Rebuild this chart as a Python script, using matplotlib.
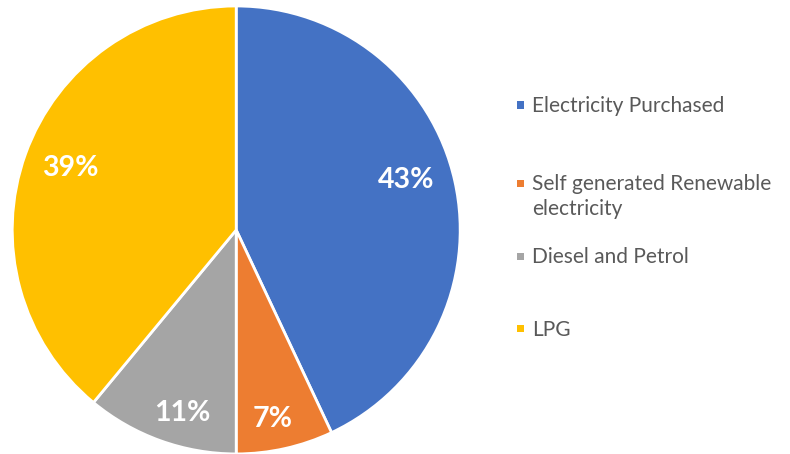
import matplotlib.pyplot as plt
from matplotlib.patches import Rectangle

plt.rcParams['font.family'] = ['Lato', 'DejaVu Sans']

# energy mix shares (%)
categories = ["Electricity Purchased", "Self generated Renewable\nelectricity",
              "Diesel and Petrol", "LPG"]
shares = [43, 7, 11, 39]
colors = ["#4472C4", "#ED7D31", "#A5A5A5", "#FFC000"]

fig = plt.figure(figsize=(7.9, 4.54), dpi=100)
ax = fig.add_axes([0.0155, 0.0, 0.567, 0.987])

wedges, texts, autotexts = ax.pie(
    shares,
    colors=colors,
    startangle=90,
    counterclock=False,
    autopct=lambda p: f"{p:.0f}%",
    pctdistance=0.82,
    wedgeprops=dict(edgecolor="white", linewidth=2),
    textprops=dict(color="white", fontsize=20.5, fontweight="bold"),
)
ax.set_aspect("equal")
ax.set_xlim(-1.0, 1.0)
ax.set_ylim(-1.0, 1.0)

# small nudges so the labels sit where the original puts them
nudges = [(-0.04, 0.045), (-0.018, -0.045), (0.036, -0.045), (0.03, 0.0)]
for t, (dx, dy) in zip(autotexts, nudges):
    x, y = t.get_position()
    t.set_position((x + dx, y + dy))

# legend drawn by hand so the marker sits on the first text line
leg_y = [0.769, 0.597, 0.436, 0.277]
for w, lab, y in zip(wedges, categories, leg_y):
    fig.patches.append(Rectangle((0.6545, y - 0.009), 0.009, 0.0165,
                                 transform=fig.transFigure,
                                 facecolor=w.get_facecolor(), edgecolor="none"))
    fig.text(0.674, y + 0.019, lab, fontsize=15, color="#595959",
             ha="left", va="top", linespacing=1.3)

fig.savefig("out.png", dpi=100)
